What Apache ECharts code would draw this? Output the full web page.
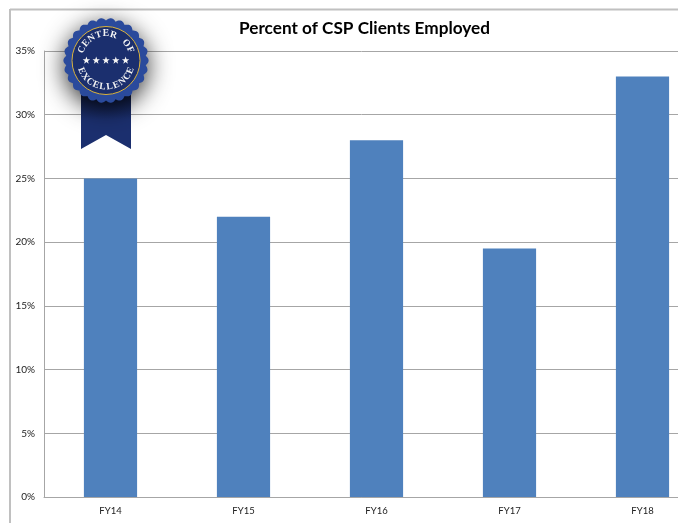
<!DOCTYPE html>
<html>
<head>
<meta charset="utf-8">
<style>
  html, body { margin: 0; padding: 0; background: #fff; overflow: hidden; }
  #chart { width: 678px; height: 523px; }
</style>
<script src="https://cdn.jsdelivr.net/npm/echarts@6/dist/echarts.min.js"></script>
</head>
<body>
<div id="chart"></div>
<script>
const categories = ['FY14', 'FY15', 'FY16', 'FY17', 'FY18'];
const employed = [25, 22, 28, 19.5, 33];
const titleText = 'Percent of CSP Clients Employed';
const badgeTop = 'CENTER OF';
const badgeBottom = 'EXCELLENCE';

const navy = '#1b2f6e';
const rim = '#2a4a9c';
const cx = 106, cy = 60.5;

// scalloped edge of the medal
function scallops() {
  const pts = [];
  for (let i = 0; i < 312; i++) {
    const a = i / 312 * Math.PI * 2;
    const r = 40 + 2.6 * Math.abs(Math.cos(a * 13));
    pts.push([cx + r * Math.cos(a), cy + r * Math.sin(a)]);
  }
  return pts;
}

// one text element per letter, turned along the circle
function arcText(str, radius, midDeg, stepDeg, flip) {
  return str.split('').map((ch, i) => {
    const off = (i - (str.length - 1) / 2) * stepDeg;
    const deg = flip ? midDeg - off : midDeg + off;
    const a = deg * Math.PI / 180;
    return {
      type: 'text',
      x: cx + radius * Math.cos(a),
      y: cy + radius * Math.sin(a),
      rotation: flip ? -(deg - 90) * Math.PI / 180 : -(deg + 90) * Math.PI / 180,
      z: 20,
      style: {
        text: ch,
        fill: '#f4f4f4',
        font: 'bold 9.5px "Liberation Serif"',
        align: 'center',
        verticalAlign: 'middle'
      }
    };
  });
}

function stars() {
  return [-19.6, -9.8, 0, 9.8, 19.6].map(dx => {
    const pts = [];
    for (let i = 0; i < 10; i++) {
      const a = -Math.PI / 2 + i * Math.PI / 5;
      const r = i % 2 ? 1.6 : 3.9;
      pts.push([cx + dx + r * Math.cos(a), cy + r * Math.sin(a)]);
    }
    return { type: 'polygon', z: 20, shape: { points: pts }, style: { fill: '#f6f6f6' } };
  });
}

const chart = echarts.init(document.getElementById('chart'), null, { renderer: 'canvas' });
chart.setOption({
  animation: false,
  backgroundColor: '#fff',
  title: {
    text: titleText,
    left: 359.5,
    top: 15,
    textAlign: 'center',
    textStyle: { fontFamily: 'Lato', fontWeight: 'bold', fontSize: 17.2, color: '#000' }
  },
  grid: { left: 44, top: 51, width: 665, height: 446, outerBoundsMode: 'none' },
  xAxis: {
    type: 'category',
    data: categories,
    axisTick: { show: false },
    axisLine: { lineStyle: { color: '#a6a6a6', width: 1 } },
    axisLabel: { fontFamily: 'Lato', fontSize: 9.5, color: '#222', margin: 9 }
  },
  yAxis: {
    type: 'value',
    min: 0,
    max: 35,
    interval: 5,
    axisLine: { show: true, lineStyle: { color: '#a6a6a6', width: 1 } },
    axisTick: { show: false },
    splitLine: { lineStyle: { color: '#a6a6a6', width: 1 } },
    axisLabel: { formatter: '{value}%', fontFamily: 'Lato', fontSize: 10, color: '#222', margin: 9 }
  },
  series: [{
    type: 'bar',
    data: employed,
    barWidth: '40%',
    itemStyle: { color: '#4f81bd' },
    silent: true
  }],
  graphic: [
    // chart frame
    { type: 'line', z: 1, shape: { x1: 10, y1: 9.5, x2: 678, y2: 9.5 }, style: { stroke: '#c0c0c0', lineWidth: 2 } },
    { type: 'line', z: 1, shape: { x1: 10, y1: 9, x2: 10, y2: 523 }, style: { stroke: '#c0c0c0', lineWidth: 2 } },
    // ribbon
    {
      type: 'polygon', z: 10,
      shape: { points: [[81, 95], [131, 95], [131, 149], [106, 135], [81, 149]] },
      style: {
        fill: new echarts.graphic.LinearGradient(0, 0, 0, 1, [
          { offset: 0, color: '#101c44' },
          { offset: 0.45, color: navy },
          { offset: 1, color: navy }
        ])
      }
    },
    // medal
    {
      type: 'polygon', z: 11,
      shape: { points: scallops() },
      style: { fill: rim, shadowBlur: 24, shadowColor: 'rgba(0,0,0,0.8)', shadowOffsetY: 6 }
    },
    { type: 'circle', z: 12, shape: { cx, cy, r: 34 }, style: { fill: navy, stroke: '#d9b23c', lineWidth: 1 } },
    ...stars(),
    ...arcText(badgeTop, 26.5, -90, 16.5, false),
    ...arcText(badgeBottom, 26.5, 90, 15, true)
  ]
});
</script>
</body>
</html>
